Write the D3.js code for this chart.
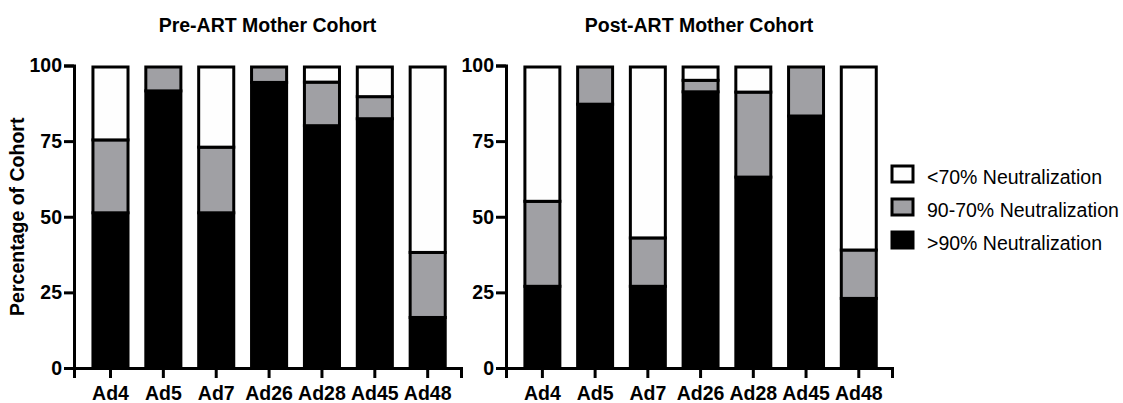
<!DOCTYPE html>
<html>
<head>
<meta charset="utf-8">
<script src="https://cdn.jsdelivr.net/npm/d3@7"></script>
<style>
    body { margin: 0; background: #fff; }
    text { font-family: "Liberation Sans", Arial, Helvetica, sans-serif; }
</style>
</head>
<body>
<svg></svg>
<script>
let categories = ['Ad4', 'Ad5', 'Ad7', 'Ad26', 'Ad28', 'Ad45', 'Ad48']
let seriesNames = ['>90% Neutralization', '90-70% Neutralization', '<70% Neutralization']
let yTicks = [0, 25, 50, 75, 100]

// Pre-ART cohort, percent of mothers
let preOver90 = [51.8, 92.1, 51.8, 94.9, 80.6, 82.9, 17.2]
let preMid = [24.1, 7.9, 21.7, 5.1, 14.4, 7.3, 21.5]
let preUnder70 = [24.1, 0, 26.5, 0, 5.0, 9.8, 61.3]

// Post-ART cohort
let postOver90 = [27.5, 87.7, 27.5, 91.8, 63.6, 83.8, 23.5]
let postMid = [28.1, 12.3, 16.0, 3.8, 28.1, 16.2, 16.0]
let postUnder70 = [44.4, 0, 56.5, 4.4, 8.3, 0, 60.5]

let width = 1123
let height = 403
let fontSize = 19.5
let colors = ['#000000', '#a0a0a4', '#fefefe']
let keys = ['over90', 'mid', 'under70']

let svg = d3.select('svg')
    .attr('width', width)
    .attr('height', height)

let buildRows = (a, b, c) => {
    return categories.map((cat, i) => {
        return {cat: cat, over90: a[i], mid: b[i], under70: c[i]}
    })
}

let yScale = d3.scaleLinear()
    .domain([0, 100])
    .range([368, 65.5])

let drawPanel = (rows, title, x0, x1) => {
    let g = svg.append('g')

    let xScale = d3.scaleBand()
        .domain(categories)
        .range([x0, x1])
        .paddingInner(0.28)
        .paddingOuter(0.3)
        .align(0.55)

    let stacked = d3.stack().keys(keys)(rows)

    // bars, one rect per segment
    stacked.forEach((layer, li) => {
        g.append('g')
            .selectAll('rect')
            .data(layer.filter(d => d[1] - d[0] > 0))
            .enter()
            .append('rect')
            .attr('x', d => xScale(d.data.cat) + 1.5)
            .attr('width', xScale.bandwidth() - 3)
            .attr('y', d => yScale(d[1]) + 1.5)
            .attr('height', d => Math.max(0, yScale(d[0]) - yScale(d[1]) - (d[0] === 0 ? 1.5 : 0)))
            .attr('fill', colors[li])
            .attr('stroke', '#000')
            .attr('stroke-width', 3)
    })

    let xAxis = d3.axisBottom(xScale).tickSizeOuter(0).tickSize(10).tickPadding(8)
    let yAxis = d3.axisLeft(yScale).tickValues(yTicks).tickSizeOuter(0).tickSize(10).tickPadding(2)

    g.append('g')
        .attr('transform', `translate(0, ${yScale(0)})`)
        .call(xAxis)
        .call(a => a.selectAll('text').attr('font-size', fontSize).attr('font-weight', 'bold').attr('fill', '#000').style('font-family', '"Liberation Sans", Arial, sans-serif'))

    g.append('g')
        .attr('transform', `translate(${x0}, 0)`)
        .call(yAxis)
        .call(a => a.selectAll('text').attr('font-size', fontSize).attr('font-weight', 'bold').attr('fill', '#000').style('font-family', '"Liberation Sans", Arial, sans-serif'))

    g.selectAll('.domain, .tick line')
        .attr('stroke', '#000')
        .attr('stroke-width', 3)

    g.append('text')
        .attr('x', (x0 + x1) / 2)
        .attr('y', 32)
        .attr('text-anchor', 'middle')
        .attr('font-size', fontSize)
        .attr('font-weight', 'bold')
        .text(title)
}

drawPanel(buildRows(preOver90, preMid, preUnder70), 'Pre-ART Mother Cohort', 74, 461)
drawPanel(buildRows(postOver90, postMid, postUnder70), 'Post-ART Mother Cohort', 506, 892)

// Y axis title
svg.append('text')
    .attr('transform', `translate(24, ${(yScale(0) + yScale(100)) / 2}) rotate(-90)`)
    .attr('text-anchor', 'middle')
    .attr('font-size', fontSize)
    .attr('font-weight', 'bold')
    .text('Percentage of Cohort')

// Legend, top row is <70%
let legend = svg.append('g')
    .attr('transform', 'translate(892, 166)')

let legendOrder = [2, 1, 0]
legendOrder.forEach((k, i) => {
    let row = legend.append('g')
        .attr('transform', `translate(0, ${i * 33})`)
    row.append('rect')
        .attr('width', 21)
        .attr('height', 16)
        .attr('fill', colors[k])
        .attr('stroke', '#000')
        .attr('stroke-width', 3)
    row.append('text')
        .attr('x', 35)
        .attr('y', 18)
        .attr('font-size', fontSize)
        .text(seriesNames[k])
})
</script>
</body>
</html>
